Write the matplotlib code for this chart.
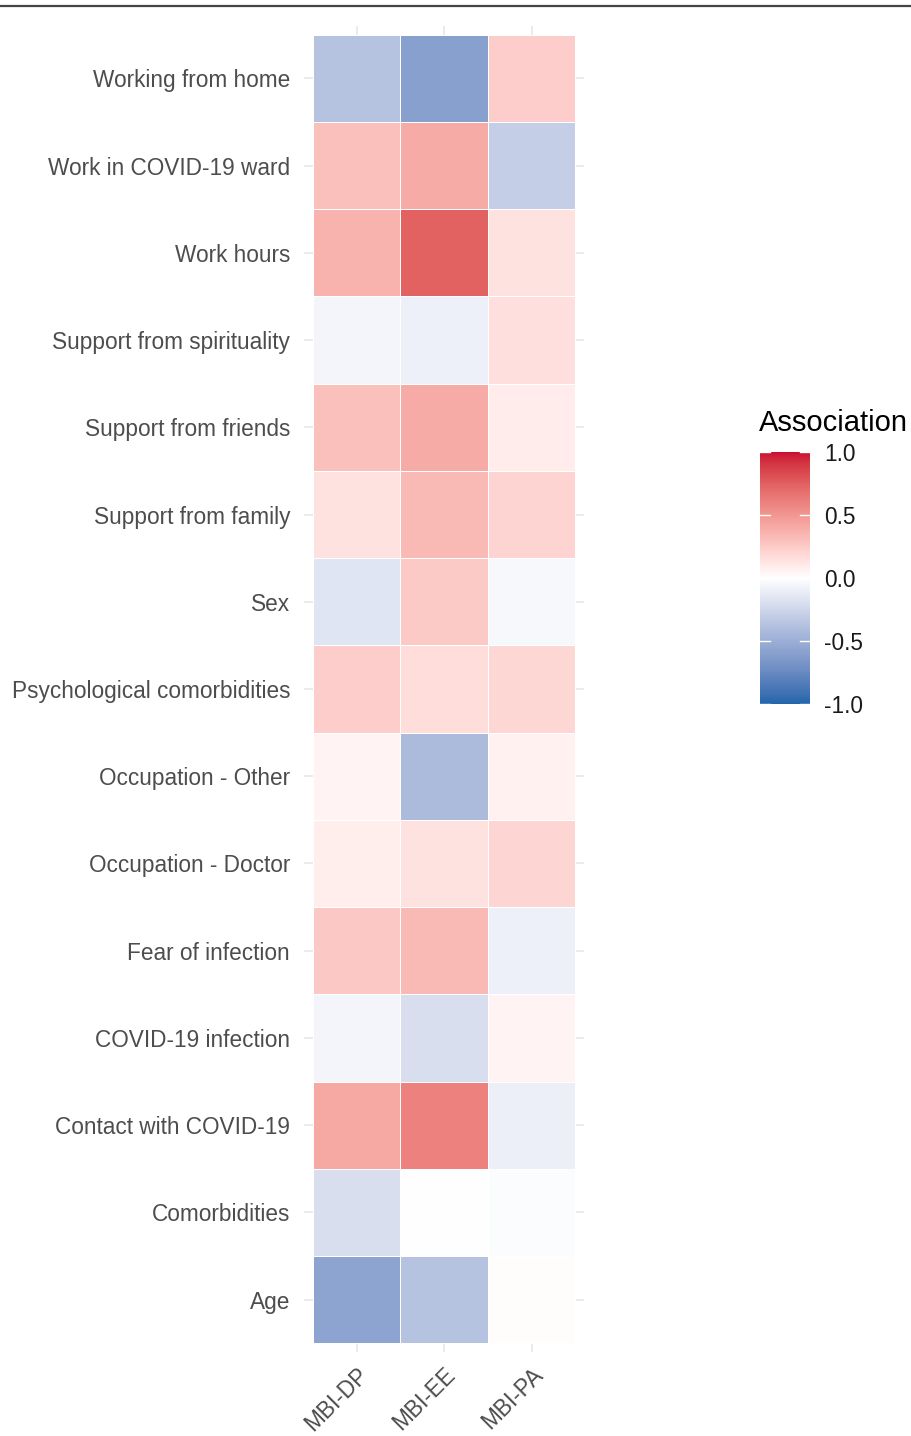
import matplotlib
matplotlib.use('Agg')
import matplotlib.pyplot as plt
import numpy as np
from matplotlib.colors import ListedColormap
from matplotlib.lines import Line2D

# predictors, listed top to bottom as in the figure
predictors = ['Working from home', 'Work in COVID-19 ward', 'Work hours',
              'Support from spirituality', 'Support from friends',
              'Support from family', 'Sex', 'Psychological comorbidities',
              'Occupation - Other', 'Occupation - Doctor', 'Fear of infection',
              'COVID-19 infection', 'Contact with COVID-19', 'Comorbidities', 'Age']
outcomes = ['MBI-DP', 'MBI-EE', 'MBI-PA']

# association values, one list per outcome (same order as predictors)
mbi_dp = [-0.37, 0.30, 0.36, -0.06, 0.30, 0.14, -0.16, 0.24, 0.05, 0.08, 0.26, -0.06, 0.42, -0.20, -0.57]
mbi_ee = [-0.60, 0.40, 0.74, -0.09, 0.40, 0.33, 0.25, 0.16, -0.42, 0.14, 0.33, -0.20, 0.60, 0.00, -0.37]
mbi_pa = [0.24, -0.30, 0.14, 0.15, 0.09, 0.21, -0.04, 0.19, 0.07, 0.20, -0.09, 0.05, -0.10, -0.02, 0.01]

cbar_ticks = [-1.0, -0.5, 0.0, 0.5, 1.0]


# diverging palette interpolated in Lab space (like ggplot's gradient2)
def hex2rgb(h):
    h = h.lstrip('#')
    return np.array([int(h[i:i + 2], 16) / 255 for i in (0, 2, 4)])

M = np.array([[0.4124, 0.3576, 0.1805],
              [0.2126, 0.7152, 0.0722],
              [0.0193, 0.1192, 0.9505]])
WHITE = M @ np.ones(3)

def rgb2lab(c):
    lin = np.where(c <= 0.04045, c / 12.92, ((c + 0.055) / 1.055) ** 2.4)
    xyz = M @ lin / WHITE
    f = np.where(xyz > 0.008856, np.cbrt(xyz), 7.787 * xyz + 16 / 116)
    return np.array([116 * f[1] - 16, 500 * (f[0] - f[1]), 200 * (f[1] - f[2])])

def lab2rgb(lab):
    fy = (lab[0] + 16) / 116
    f = np.array([fy + lab[1] / 500, fy, fy - lab[2] / 200])
    xyz = np.where(f ** 3 > 0.008856, f ** 3, (f - 16 / 116) / 7.787) * WHITE
    lin = np.linalg.solve(M, xyz)
    c = np.where(lin <= 0.0031308, 12.92 * lin, 1.055 * np.clip(lin, 0, None) ** (1 / 2.4) - 0.055)
    return np.clip(c, 0, 1)

low, mid, high = rgb2lab(hex2rgb('#2166AC')), rgb2lab(hex2rgb('#FFFFFF')), rgb2lab(hex2rgb('#CB0B33'))
cols = []
for t in np.linspace(0, 1, 256):
    if t < 0.5:
        u = t / 0.5
        cols.append(lab2rgb(low + (mid - low) * u))
    else:
        u = (t - 0.5) / 0.5
        cols.append(lab2rgb(mid + (high - mid) * u))
cmap = ListedColormap(cols)

data = np.array([mbi_dp, mbi_ee, mbi_pa]).T

fig = plt.figure(figsize=(9.11, 14.36), dpi=100)
ax = fig.add_axes([304 / 911, 1 - 1352 / 1436, 280 / 911, 1326 / 1436])

nrow, ncol = data.shape
mesh = ax.pcolormesh(np.arange(ncol + 1) - 0.5, np.arange(nrow + 1) - 0.5, data,
                     cmap=cmap, vmin=-1, vmax=1, edgecolors='white', linewidth=0.5, zorder=2)
ax.set_xlim(-0.6, ncol - 0.4)
ax.set_ylim(nrow - 0.4, -0.6)
ax.set_xticks(range(ncol))
ax.set_yticks(range(nrow))
ax.set_xticklabels(outcomes, rotation=45, ha='right', va='top', rotation_mode='anchor',
                   fontsize=16.3, color='#4D4D4D', family='Liberation Sans')
ax.set_yticklabels(predictors, fontsize=16.3, color='#4D4D4D', family='Liberation Sans')
ax.tick_params(length=0, pad=10)
ax.tick_params(axis='x', pad=8)
ax.grid(True, color='#EBEBEB', linewidth=1.4, zorder=0)
ax.set_axisbelow(True)
for s in ax.spines.values():
    s.set_visible(False)

# colour bar legend
cax = fig.add_axes([760 / 911, 1 - 704 / 1436, 50 / 911, 252 / 1436])
cb = fig.colorbar(mesh, cax=cax, ticks=cbar_ticks)
cb.outline.set_visible(False)
cax.set_yticklabels(['%.1f' % t for t in cbar_ticks], fontsize=16.3, color='#1A1A1A',
                    family='Liberation Sans')
cax.tick_params(length=0, pad=10)
for t in cbar_ticks:
    cax.plot([0, 0.2], [t, t], color='white', lw=1, transform=cax.get_yaxis_transform())
    cax.plot([0.8, 1], [t, t], color='white', lw=1, transform=cax.get_yaxis_transform())
fig.text(759 / 911, 1 - 423 / 1436, 'Association', fontsize=21, color='black',
         family='Liberation Sans', ha='left', va='center')

# thin rule across the top of the figure
fig.add_artist(Line2D([0, 1], [1 - 6 / 1436, 1 - 6 / 1436], color='#444444', lw=1.6))

plt.savefig('out.png', dpi=100)
